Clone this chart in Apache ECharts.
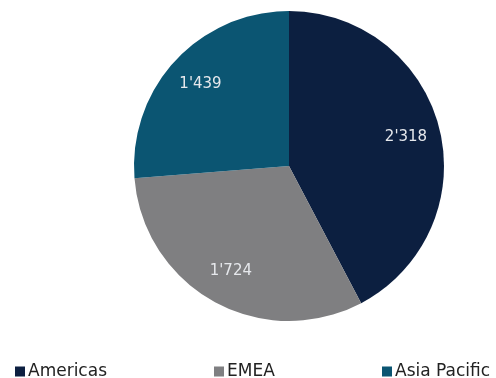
<!DOCTYPE html>
<html>
<head>
<meta charset="utf-8">
<script src="https://cdn.jsdelivr.net/npm/echarts@6/dist/echarts.min.js"></script>
<style>
  html, body { margin: 0; padding: 0; background: #fff; }
  #chart { width: 496px; height: 378px; }
</style>
</head>
<body>
<div id="chart"></div>
<script>
// Regional split
const regions = ['Americas', 'EMEA', 'Asia Pacific'];
const values = [2318, 1724, 1439];
const colors = ['#0c1f40', '#7f7f81', '#0b5572'];

const fontFamily = '"DejaVu Sans", sans-serif';

// Thousands separator with an apostrophe, e.g. 2'318
function fmt(v) {
  return String(v).replace(/\B(?=(\d{3})+(?!\d))/g, "'");
}

const pieData = regions.map((name, i) => ({ name, value: values[i], itemStyle: { color: colors[i] } }));

const chart = echarts.init(document.getElementById('chart'), null, { renderer: 'canvas' });

const legendLefts = [10, 209, 377];
const legends = regions.map((name, i) => ({
  data: [name],
  left: legendLefts[i],
  top: 358,
  icon: 'rect',
  itemWidth: 10,
  itemHeight: 10,
  itemGap: 6,
  selectedMode: false,
  textStyle: { fontFamily, fontSize: 17, color: '#222', padding: [0, 0, 0, -2] }
}));

chart.setOption({
  animation: false,
  legend: legends,
  series: [
    {
      type: 'pie',
      center: [289, 166],
      radius: 155,
      startAngle: 90,
      clockwise: true,
      label: { show: false },
      labelLine: { show: false },
      silent: true,
      data: pieData
    },
    {
      // transparent ring that only carries the value labels, placed near the rim
      type: 'pie',
      center: [289, 166],
      radius: [80, 155],
      startAngle: 90,
      clockwise: true,
      silent: true,
      itemStyle: { color: 'rgba(0,0,0,0)' },
      label: {
        show: true,
        position: 'inside',
        formatter: p => fmt(p.value),
        color: '#e6e8ec',
        fontFamily,
        fontSize: 15
      },
      labelLine: { show: false },
      legendHoverLink: false,
      data: regions.map((name, i) => ({ name: name + ' ', value: values[i] }))
    }
  ]
});
</script>
</body>
</html>
